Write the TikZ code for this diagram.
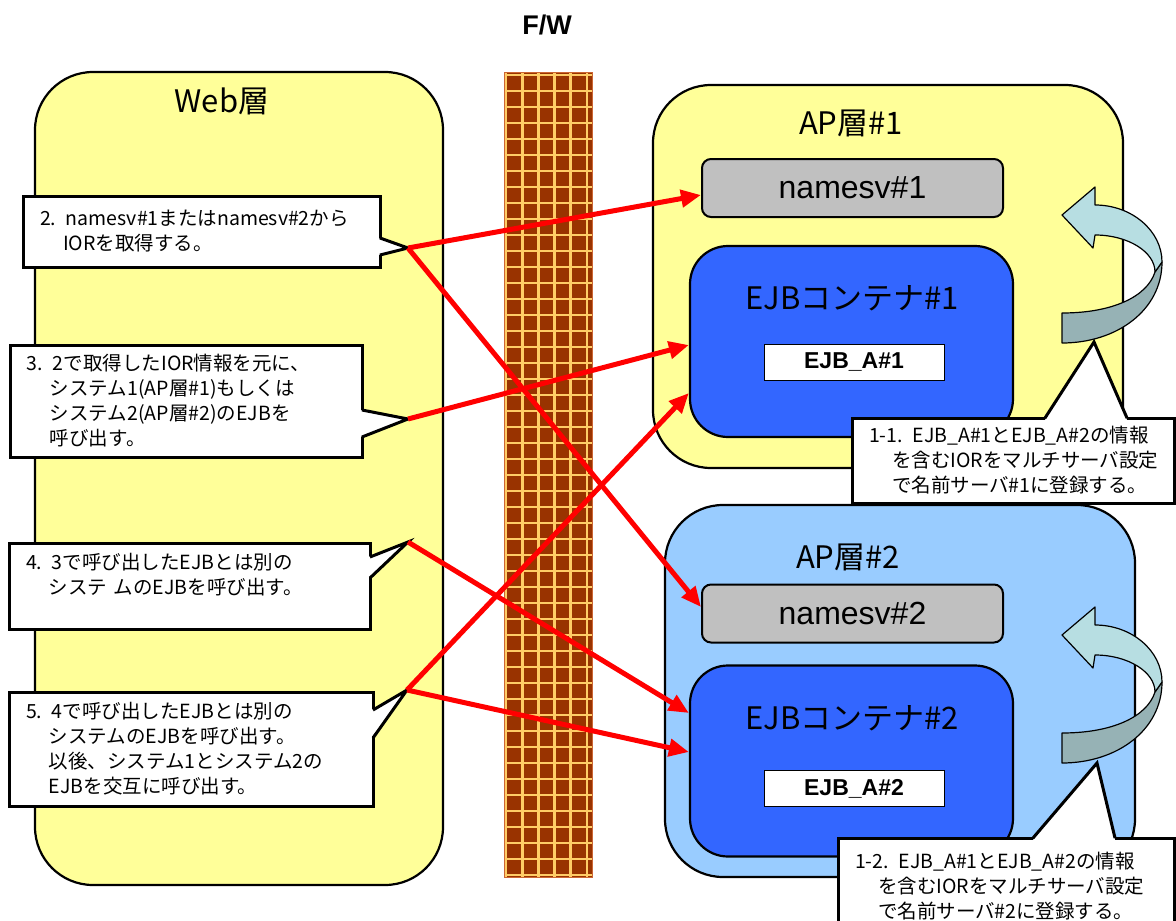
\documentclass[tikz,border=0pt]{standalone}
\usepackage{fontspec}
\setmainfont{Noto Sans CJK JP}
\newfontfamily\arialfont{Liberation Sans}
\usetikzlibrary{arrows.meta}

\definecolor{weby}{HTML}{FFFF99}
\definecolor{apblue}{HTML}{99CCFF}
\definecolor{contblue}{HTML}{3366FF}
\definecolor{srvgray}{HTML}{C0C0C0}
\definecolor{fwbrown}{HTML}{993300}
\definecolor{fwgrid}{HTML}{FFCC66}
\definecolor{fwedge}{HTML}{CC6633}
\definecolor{ribbonlt}{RGB}{183,222,226}
\definecolor{ribbondk}{RGB}{150,178,181}

\newcommand{\cind}{\hspace*{23pt}}

\begin{document}
\begin{tikzpicture}[
    x=1pt, y=-1pt,
    layer/.style={draw, line width=2.2pt, rounded corners=58pt},
    ttl/.style={font=\fontsize{31}{36}\selectfont},
    srv/.style={draw, line width=2pt, fill=srvgray, rounded corners=9pt,
                minimum width=301pt, minimum height=58pt,
                font=\arialfont\fontsize{32}{36}\selectfont},
    cont/.style={draw, line width=2.2pt, fill=contblue, rounded corners=38pt,
                 minimum width=323pt, minimum height=191pt},
    ejb/.style={draw, line width=1pt, fill=white, minimum width=180pt, minimum height=36pt,
                font=\arialfont\bfseries\fontsize{23}{26}\selectfont},
    callout/.style={draw, line width=3pt, fill=white, outer sep=0pt, inner xsep=17pt,
                    align=left, font=\fontsize{19.5}{25}\selectfont},
    tail/.style={line width=3pt, line join=miter},
    ribbon/.style={draw, line width=1.2pt, line join=round},
    req/.style={-{Triangle[length=20pt, width=17pt]}, red, line width=5pt},
  ]
  \useasboundingbox (0,0) rectangle (1176,921);

  % ---------- firewall ----------
  \node[font=\arialfont\bfseries\fontsize{27}{30}\selectfont] (fw) at (547,25) {F/W};
  \fill[fwbrown] (504,72) rectangle (592,877);
  \begin{scope}
    \clip (504,72) rectangle (592,877);
    \foreach \gx in {0,...,5}
      \draw[fwgrid, line width=2.8pt] (506+16.2*\gx,72) -- ++(0,805);
    \foreach \gy in {0,...,50}
      \draw[fwgrid, line width=2.8pt] (504,75+16*\gy) -- ++(88,0);
  \end{scope}
  \draw[fwedge, line width=1pt] (504,72) rectangle (592,877);

  % ---------- Web layer ----------
  \draw[layer, fill=weby] (35,72) rectangle (443,885);
  \node[ttl] (webttl) at (222,101) {Web層};

  % ---------- AP layer #1 ----------
  \draw[layer, fill=weby] (653,85) rectangle (1123,468);
  \node[ttl] (ap1ttl) at (851,123) {AP層\#1};
  \node[srv] (ns1) at (852.5,188) {namesv\#1};
  \node[cont] (ejb1) at (851.5,341.5) {};
  \node[ttl] (ejb1ttl) at (852,298) {EJBコンテナ\#1};
  \node[ejb] (ejba1) at (854,362) {EJB\_A\#1};

  % ---------- AP layer #2 ----------
  \draw[layer, fill=apblue] (665,505) rectangle (1135,877);
  \node[ttl] (ap2ttl) at (848,557) {AP層\#2};
  \node[srv] (ns2) at (852.5,613.5) {namesv\#2};
  \node[cont] (ejb2) at (851.5,761) {};
  \node[ttl] (ejb2ttl) at (852,718) {EJBコンテナ\#2};
  \node[ejb] (ejba2) at (854,788.5) {EJB\_A\#2};

  % ---------- registration ribbons (one per AP layer) ----------
  \foreach \dy in {0,420} {
    \begin{scope}[shift={(1062,215+\dy)}]
      \draw[ribbon, fill=ribbondk] (100,47) .. controls (100,95) and (55,128) .. (0,128)
        -- (0,98) .. controls (50,98) and (85,82) .. (93,57) -- cycle;
      \draw[ribbon, fill=ribbonlt] (33,-10) -- (33,-28) -- (0,0) -- (31,33) -- (33,20)
        .. controls (66,20) and (93,37) .. (93,57) -- (100,47)
        .. controls (100,16) and (70,-10) .. (33,-10) -- cycle;
    \end{scope}
  }

  % ---------- callouts ----------
  \node[callout, text width=323pt, minimum height=71pt] (c2) at (201.5,231.5)
    {2. namesv\#1またはnamesv\#2から\\\cind IORを取得する。};
  \node[callout, text width=318pt, minimum height=112pt] (c3) at (186,401)
    {3. 2で取得したIOR情報を元に、\\\cind システム1(AP層\#1)もしくは\\\cind システム2(AP層\#2)のEJBを\\\cind 呼び出す。};
  \node[callout, text width=327pt, minimum height=86pt] (c4) at (189.5,586)
    {4. 3で呼び出したEJBとは別の\\\cind システ ムのEJBを呼び出す。\\ \mbox{}};
  \node[callout, text width=330pt, minimum height=114pt] (c5) at (191,749)
    {5. 4で呼び出したEJBとは別の\\\cind システムのEJBを呼び出す。\\\cind 以後、システム1とシステム2の\\\cind EJBを交互に呼び出す。};
  \node[callout, text width=288pt, minimum height=85pt] (c11) at (1013,460.5)
    {1-1. EJB\_A\#1とEJB\_A\#2の情報\\\cind を含むIORをマルチサーバ設定\\\cind で名前サーバ\#1に登録する。};
  \node[callout, text width=302pt, minimum height=97pt] (c12) at (1006,886.5)
    {1-2. EJB\_A\#1とEJB\_A\#2の情報\\\cind を含むIORをマルチサーバ設定\\\cind で名前サーバ\#2に登録する。};

  % ---------- callout tails ----------
  \coordinate (ac2) at (408,248);
  \coordinate (ac3) at (408,419);
  \coordinate (ac4) at (408,542);
  \coordinate (ac5) at (407,690);
  \coordinate (ac11) at (1094,342);
  \coordinate (ac12) at (1097,763);
  \foreach \cn/\ua/\ub in {c2/-6.5pt/-23.5pt, c3/-9pt/-36pt, c4/29pt/8pt, c5/39pt/11pt} {
    \fill[white] ([xshift=-2pt,yshift=\ua]\cn.east) -- (a\cn) -- ([xshift=-2pt,yshift=\ub]\cn.east) -- cycle;
    \draw[tail] ([yshift=\ua]\cn.east) -- (a\cn) -- ([yshift=\ub]\cn.east);
  }
  \foreach \cn/\ua/\ub in {c11/32pt/114pt, c12/27pt/109pt} {
    \fill[white] ([xshift=\ua,yshift=-2pt]\cn.north) -- (a\cn) -- ([xshift=\ub,yshift=-2pt]\cn.north) -- cycle;
    \draw[tail] ([xshift=\ua]\cn.north) -- (a\cn) -- ([xshift=\ub]\cn.north);
  }

  % ---------- requests across the firewall ----------
  \draw[req] (ac2) -- ([yshift=-7pt]ns1.west);
  \draw[req] (ac2) -- ([yshift=6.5pt]ns2.west);
  \draw[req] (ac3) -- ([yshift=-3.5pt]ejb1.west);
  \draw[req] (ac5) -- ([yshift=-51.5pt]ejb1.west);
  \draw[req] (ac4) -- ([yshift=48pt]ejb2.west);
  \draw[req] (ac5) -- ([yshift=9pt]ejb2.west);

\end{tikzpicture}
\end{document}
